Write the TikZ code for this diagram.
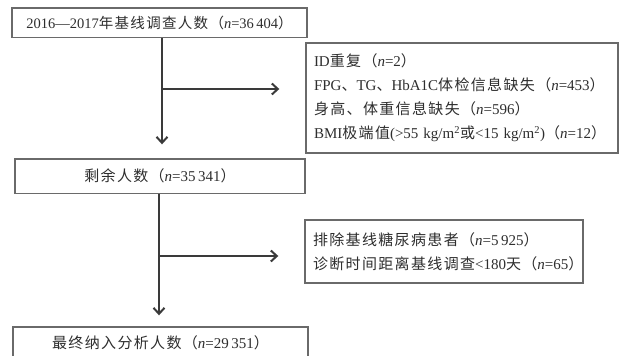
\documentclass[tikz,border=0pt]{standalone}
\usepackage{fontspec}
\setmainfont{Liberation Serif}
\newfontfamily\cjkfont{Noto Sans CJK SC}[LetterSpace=9]
\newcommand{\zh}[1]{{\cjkfont #1}}
\usetikzlibrary{arrows.meta}
\definecolor{boxgray}{HTML}{6A6A6A}
\definecolor{txtgray}{HTML}{2E2E2E}
\definecolor{arrgray}{HTML}{3A3A3A}
\tikzset{
  box/.style={draw=boxgray, line width=1.4pt, text=txtgray, inner sep=0pt,
    font=\fontsize{15}{24}\selectfont},
  flowarrow/.style={draw=arrgray, line width=2.2pt,
    -{Straight Barb[length=6pt,width=11pt,line width=2pt]}}
}
\begin{document}
\begin{tikzpicture}[x=1pt,y=-1pt]
\clip (0,0) rectangle (619,356);
\fill[white] (0,0) rectangle (619,356);
\node[box, minimum width=295pt, minimum height=29.5pt, font=\fontsize{14.5}{24}\selectfont] (b1) at (159.5,22.75)
  {2016—2017\zh{年基线调查人数（}\textit{n}=36\,404\zh{）}};
\node[box, minimum width=312pt, minimum height=110pt, text width=296pt, align=left] (b2) at (462,98)
  {ID\zh{重复（}\textit{n}=2\zh{）}\\
   FPG\zh{、}TG\zh{、}HbA1C\zh{体检信息缺失（}\textit{n}=453\zh{）}\\
   \zh{身高、体重信息缺失（}\textit{n}=596\zh{）}\\
   BMI\zh{极端值}(>55 kg/m\textsuperscript{2}\zh{或}<15 kg/m\textsuperscript{2})\zh{（}\textit{n}=12\zh{）}};
\node[box, minimum width=290pt, minimum height=34.5pt] (b3) at (160,176.25)
  {\zh{剩余人数（}\textit{n}=35\,341\zh{）}};
\node[box, minimum width=278pt, minimum height=63pt, text width=262pt, align=left] (b4) at (444,251.5)
  {\zh{排除基线糖尿病患者（}\textit{n}=5\,925\zh{）}\\
   \zh{诊断时间距离基线调查}<180\zh{天（}\textit{n}=65\zh{）}};
\node[box, minimum width=295pt, minimum height=32pt] (b5) at (160.5,343)
  {\zh{最终纳入分析人数（}\textit{n}=29\,351\zh{）}};
% first branch
\coordinate (x1) at (162,0);
\coordinate (j1) at (162,89);
\draw[flowarrow, shorten >=14pt] (b1.south -| x1) -- (b3.north -| x1);
\draw[flowarrow, shorten >=26pt] (j1) -- (j1 -| b2.west);
% second branch
\coordinate (x2) at (159,0);
\coordinate (j2) at (159,256);
\draw[flowarrow, shorten >=11pt] (b3.south -| x2) -- (b5.north -| x2);
\draw[flowarrow, shorten >=26pt] (j2) -- (j2 -| b4.west);
\end{tikzpicture}
\end{document}
